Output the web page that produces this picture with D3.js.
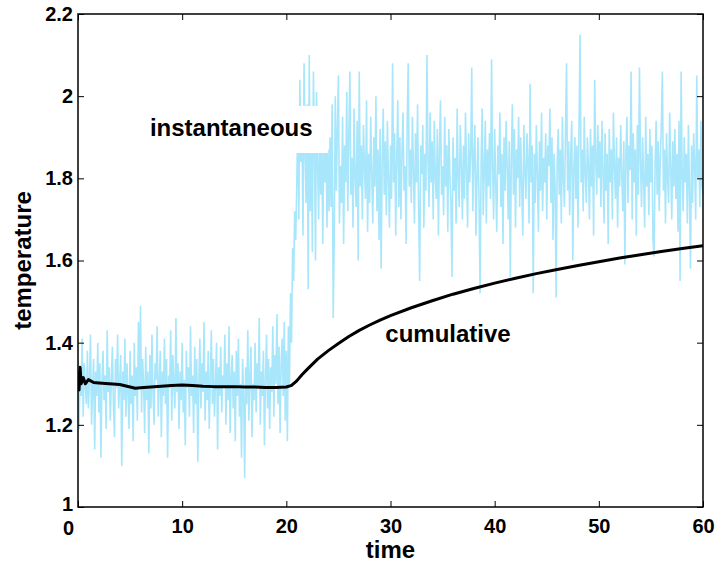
<!DOCTYPE html>
<html>
<head>
<meta charset="utf-8">
<script src="https://cdn.jsdelivr.net/npm/d3@7/dist/d3.min.js"></script>
<style>
  body { margin: 0; background: #fff; }
  svg text { font-family: "Liberation Sans", Arial, Helvetica, sans-serif; font-weight: bold; fill: #000; }
  .tick-label { font-size: 20px; }
  .axis-label { font-size: 24px; }
</style>
</head>
<body>
<div id="chart"></div>
<script>
// sampling interval of the instantaneous trace
var timeStep = 0.1;

// instantaneous temperature, t = 0.0 .. 20.9
var instBefore = [
  1.36,1.19,1.33,1.27,1.41,1.22,1.35,1.30,1.25,1.38,
  1.24,1.31,1.42,1.20,1.29,1.36,1.14,1.33,1.27,1.40,
  1.23,1.35,1.12,1.30,1.38,1.26,1.32,1.19,1.43,1.28,
  1.34,1.21,1.31,1.39,1.25,1.17,1.36,1.29,1.42,1.24,
  1.30,1.37,1.10,1.33,1.26,1.41,1.22,1.35,1.28,1.19,
  1.38,1.25,1.32,1.16,1.40,1.27,1.34,1.21,1.45,1.29,
  1.49,1.23,1.36,1.30,1.18,1.39,1.26,1.33,1.13,1.37,
  1.24,1.42,1.28,1.20,1.35,1.31,1.44,1.22,1.30,1.38,
  1.17,1.33,1.27,1.41,1.25,1.36,1.12,1.32,1.29,1.43,
  1.21,1.37,1.30,1.24,1.46,1.28,1.35,1.19,1.33,1.26,
  1.40,1.23,1.31,1.15,1.38,1.29,1.34,1.22,1.44,1.27,
  1.32,1.18,1.39,1.25,1.36,1.11,1.30,1.41,1.24,1.35,
  1.28,1.45,1.21,1.33,1.26,1.38,1.19,1.31,1.43,1.25,
  1.36,1.22,1.30,1.40,1.14,1.34,1.27,1.39,1.23,1.32,
  1.29,1.42,1.20,1.35,1.26,1.44,1.18,1.31,1.37,1.24,
  1.33,1.16,1.38,1.27,1.41,1.22,1.30,1.12,1.36,1.28,
  1.07,1.34,1.25,1.43,1.21,1.32,1.39,1.17,1.30,1.26,
  1.40,1.23,1.35,1.29,1.46,1.20,1.33,1.27,1.38,1.15,
  1.31,1.42,1.24,1.36,1.19,1.34,1.28,1.44,1.22,1.37,
  1.30,1.47,1.25,1.39,1.18,1.35,1.41,1.27,1.45,1.21,
  1.38,1.16,1.44,1.30,1.52,1.40,1.63,1.55,1.72,1.65
];

// instantaneous temperature, t = 21.0 .. 60.0
var instAfter = [
  1.78,1.95,1.70,2.04,1.84,1.92,1.66,2.08,1.86,1.74,
  1.98,1.53,2.10,1.72,1.93,1.62,2.06,1.88,1.60,2.01,
  1.84,1.70,1.94,1.76,1.89,1.64,1.91,1.79,1.96,1.68,
  1.87,1.72,1.90,1.73,1.98,1.46,1.66,2.00,1.77,1.92,
  2.05,1.69,1.83,1.74,1.95,1.64,1.88,1.79,2.01,1.72,
  1.90,2.06,1.76,1.85,1.68,1.97,1.80,1.73,1.94,1.60,
  2.06,1.78,1.88,1.70,1.93,1.83,1.75,1.99,1.67,1.86,
  1.74,1.95,1.81,1.69,1.90,1.78,2.00,1.72,1.87,1.65,
  1.92,1.58,1.84,1.97,1.76,1.89,1.71,1.94,1.80,1.68,
  1.88,1.75,2.08,1.79,1.91,1.66,1.85,1.99,1.73,1.90,
  1.70,1.86,1.96,1.77,1.83,1.64,1.93,2.08,1.78,1.87,
  1.74,1.95,1.82,1.69,1.91,1.79,1.98,1.72,1.55,1.88,
  1.81,1.93,1.68,1.86,1.77,2.10,1.84,1.73,1.96,1.79,
  1.89,1.70,1.94,1.80,1.75,1.92,1.66,1.87,1.99,1.76,
  1.83,1.71,1.95,1.78,1.88,1.67,1.92,1.81,1.74,1.56,
  1.90,1.77,1.85,1.69,1.97,1.80,1.73,1.93,1.84,1.70,
  1.88,1.75,1.96,1.82,1.68,1.91,1.79,1.86,2.07,1.72,
  1.85,1.93,1.66,1.80,1.90,1.74,1.52,1.84,1.97,1.71,
  1.82,1.94,1.69,1.87,1.78,1.91,1.75,2.09,1.83,1.70,
  1.92,1.79,1.67,1.88,1.81,1.96,1.73,1.86,1.64,1.90,
  1.77,1.94,1.83,1.70,1.89,1.56,1.85,1.98,1.76,1.92,
  1.68,1.87,1.80,1.95,1.73,1.90,1.78,1.66,1.93,1.82,
  1.75,1.91,1.84,1.69,2.03,1.79,1.88,1.52,1.86,1.74,
  1.93,1.81,1.67,1.89,1.77,1.96,1.72,1.85,1.79,1.91,
  1.70,1.88,1.83,1.97,1.74,1.90,1.65,1.86,1.78,1.51,
  1.84,1.92,1.76,1.87,1.69,1.95,1.80,1.73,1.91,2.08,
  1.77,1.89,1.71,1.86,1.94,1.60,1.82,1.90,1.75,1.88,
  1.68,1.93,2.15,1.79,1.87,1.72,1.95,1.81,1.74,1.90,
  1.83,1.70,1.92,1.78,1.88,1.66,2.04,1.85,1.76,1.93,
  1.80,1.89,1.73,1.94,1.82,1.69,1.91,1.77,1.86,1.64,
  1.92,1.79,1.87,1.70,1.96,1.83,1.75,1.90,1.68,1.85,
  1.78,1.93,1.81,1.72,1.89,1.59,1.86,1.95,1.74,1.88,
  1.82,2.06,1.70,1.91,1.79,1.87,1.66,1.93,1.76,2.07,
  1.84,1.73,1.90,1.80,1.68,1.95,1.78,1.86,1.71,1.92,
  1.79,1.88,1.65,1.61,1.83,1.94,1.76,1.89,1.72,1.85,
  1.93,2.06,1.77,1.87,1.69,1.91,1.80,1.74,1.96,1.83,
  1.70,1.89,1.78,1.92,1.75,1.86,1.67,1.94,1.55,2.06,
  1.81,1.72,1.90,1.79,1.86,1.69,1.93,1.77,1.58,1.88,
  1.74,1.91,1.83,1.70,2.05,1.80,1.87,1.73,1.94,1.78,
  1.76
];

// cumulative (running) average
var cumTimes = [0, 0.1, 0.2, 0.3, 0.5, 0.7, 1, 1.5, 2, 3, 4, 5, 5.5, 6, 7, 8, 9, 10,
  11, 12, 13, 14, 15, 16, 17, 18, 19, 20, 20.5, 21, 21.5, 22, 23, 24, 25, 26, 27, 28,
  29, 30, 32, 34, 36, 38, 40, 42, 44, 46, 48, 50, 52, 54, 56, 58, 60];
var cumValues = [1.33, 1.285, 1.34, 1.30, 1.315, 1.30, 1.31, 1.303, 1.302, 1.30, 1.298,
  1.292, 1.289, 1.290, 1.292, 1.294, 1.296, 1.297, 1.296, 1.294, 1.293, 1.293, 1.293,
  1.292, 1.292, 1.291, 1.291, 1.292, 1.296, 1.307, 1.322, 1.335, 1.36, 1.38, 1.398,
  1.415, 1.43, 1.443, 1.455, 1.466, 1.485, 1.502, 1.518, 1.532, 1.545, 1.557, 1.568,
  1.578, 1.588, 1.597, 1.606, 1.614, 1.622, 1.629, 1.636];

var xTicks = [0, 10, 20, 30, 40, 50, 60];
var yTicks = [1, 1.2, 1.4, 1.6, 1.8, 2, 2.2];

var labels = [
  {text: "instantaneous", t: 6.9, v: 1.903},
  {text: "cumulative", t: 29.5, v: 1.401}
];

var margin = {top: 14, right: 14, bottom: 56, left: 78},
    width = 717 - margin.left - margin.right,
    height = 563 - margin.top - margin.bottom;

var svg = d3.select("#chart")
  .append("svg")
    .attr("width", 717)
    .attr("height", 563)
  .append("g")
    .attr("transform", "translate(" + margin.left + "," + margin.top + ")");

var x = d3.scaleLinear().domain([0, 60]).range([0, width]);
var y = d3.scaleLinear().domain([1, 2.2]).range([height, 0]);

svg.append("clipPath").attr("id", "plot-clip")
  .append("rect").attr("width", width).attr("height", height);

// build instantaneous points
var inst = [];
instBefore.concat(instAfter).forEach(function(v, i) {
  inst.push([i * timeStep, v]);
});

var line = d3.line()
  .x(function(d) { return x(d[0]); })
  .y(function(d) { return y(d[1]); });

var plot = svg.append("g").attr("clip-path", "url(#plot-clip)");

plot.append("path")
  .datum(inst)
  .attr("fill", "none")
  .attr("stroke", "#a8e6fb")
  .attr("stroke-width", 1.6)
  .attr("d", line);

// white box behind the "instantaneous" label
var lab0 = labels[0];
plot.append("rect")
  .attr("x", x(lab0.t) - 8)
  .attr("y", y(lab0.v) - 30)
  .attr("width", 186)
  .attr("height", 47)
  .attr("fill", "#fff");

var cum = cumTimes.map(function(t, i) { return [t, cumValues[i]]; });
plot.append("path")
  .datum(cum)
  .attr("fill", "none")
  .attr("stroke", "#000")
  .attr("stroke-width", 3)
  .attr("stroke-linejoin", "round")
  .attr("d", line);

// axes (MATLAB style box with inward ticks)
var xAxis = svg.append("g")
  .attr("transform", "translate(0," + height + ")")
  .call(d3.axisBottom(x).tickValues(xTicks).tickSizeInner(-6).tickSizeOuter(0).tickPadding(12).tickFormat(d3.format("d")));
xAxis.selectAll("text")
  .attr("dx", function(d) { return d === 0 ? -10 : 0; })
  .attr("y", function(d) { return d === 0 ? 14 : 12; });

svg.append("g")
  .call(d3.axisTop(x).tickValues(xTicks).tickSizeInner(-6).tickSizeOuter(0).tickFormat(""));

var yAxis = svg.append("g")
  .call(d3.axisLeft(y).tickValues(yTicks).tickSizeInner(-6).tickSizeOuter(0).tickPadding(5).tickFormat(d3.format("")));
yAxis.selectAll("text")
  .attr("y", function(d) { return d === 1 ? -3 : 0; });

svg.append("g")
  .attr("transform", "translate(" + width + ",0)")
  .call(d3.axisRight(y).tickValues(yTicks).tickSizeInner(-6).tickSizeOuter(0).tickFormat(""));

svg.selectAll(".tick text").attr("class", "tick-label");
svg.selectAll(".domain").remove();
svg.selectAll(".tick line").attr("stroke", "#000").attr("stroke-width", 1);

svg.append("rect")
  .attr("width", width)
  .attr("height", height)
  .attr("fill", "none")
  .attr("stroke", "#000")
  .attr("stroke-width", 1.5);

// axis labels
svg.append("text")
  .attr("class", "axis-label")
  .attr("x", width / 2)
  .attr("y", height + 51)
  .style("text-anchor", "middle")
  .text("time");

svg.append("text")
  .attr("class", "axis-label")
  .attr("transform", "rotate(-90)")
  .attr("x", -height / 2)
  .attr("y", -47)
  .style("text-anchor", "middle")
  .text("temperature");

// in-plot annotations
labels.forEach(function(l) {
  svg.append("text")
    .attr("class", "axis-label")
    .attr("x", x(l.t))
    .attr("y", y(l.v))
    .text(l.text);
});
</script>
</body>
</html>
